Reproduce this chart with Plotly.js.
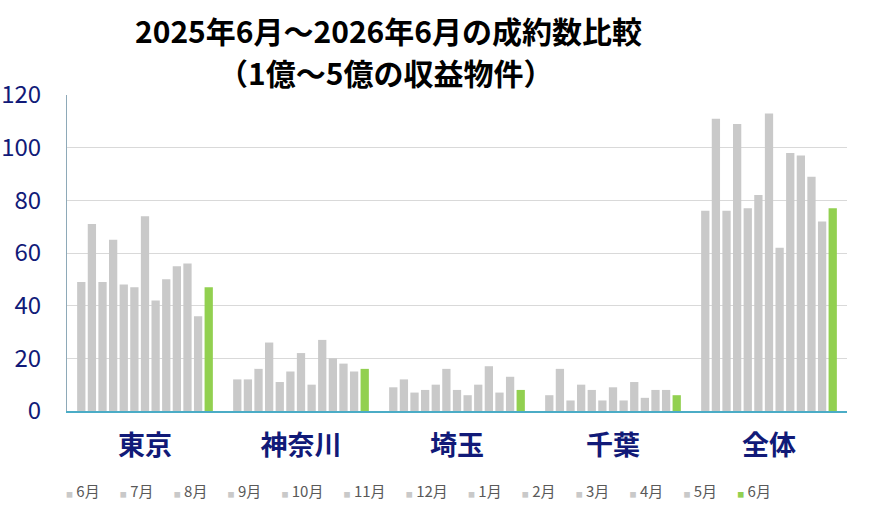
<!DOCTYPE html>
<html>
<head>
<meta charset="utf-8">
<script src="https://cdn.plot.ly/plotly-3.0.1.min.js"></script>
<style>
  html, body { margin: 0; padding: 0; background: #ffffff; }
  #containerID { width: 877px; height: 525px; }
</style>
</head>
<body>
<div id="containerID"></div>
<script>
// regions on the x axis
var regions = ['東京', '神奈川', '埼玉', '千葉', '全体'];

// one bar per month in every region (2025年6月 ... 2026年6月)
var months = ['6月', '7月', '8月', '9月', '10月', '11月', '12月', '1月', '2月', '3月', '4月', '5月', '6月'];

// counts per region, in month order
var tokyo    = [49, 71, 49, 65, 48, 47, 74, 42, 50, 55, 56, 36, 47];
var kanagawa = [12, 12, 16, 26, 11, 15, 22, 10, 27, 20, 18, 15, 16];
var saitama  = [9, 12, 7, 8, 10, 16, 8, 6, 10, 17, 7, 13, 8];
var chiba    = [6, 16, 4, 10, 8, 4, 9, 4, 11, 5, 8, 8, 6];
var total    = [76, 111, 76, 109, 77, 82, 113, 62, 98, 97, 89, 72, 77];

var regionValues = [tokyo, kanagawa, saitama, chiba, total];

var greyColor = '#C9C9C9';
var currentColor = '#92D050';
var navy = '#111A78';
var jpFont = '"Noto Sans CJK JP", "Noto Sans", sans-serif';

// one trace per month, holding that month's value for every region
var plotlyData = [];
var legendParts = [];
for(var i = 0; i < months.length; i++)
{
    var values = [];
    for(var j = 0; j < regions.length; j++)
    {
        values.push(regionValues[j][i]);
    }

    var color = i === months.length - 1 ? currentColor : greyColor;

    plotlyData.push({
        x: regions,
        y: values,
        type: 'bar',
        name: months[i],
        marker: {color: color},
        hoverinfo: 'x+y+name'
    });

    // small square + month label, like the Excel legend
    legendParts.push('<span style="font-size:7px;fill:' + color + '">■</span>\u00a0' + months[i]);
}

// the built-in legend symbols are too big and too far from the text,
// so the legend row is one annotation made from the same traces
var legendText = legendParts.join('\u00a0\u00a0\u00a0\u00a0\u00a0\u00a0');

var plotlyLayout = {
    width: 877,
    height: 525,
    margin: {l: 67, r: 30, t: 95, b: 114},
    paper_bgcolor: '#ffffff',
    plot_bgcolor: '#ffffff',
    font: {family: jpFont, color: '#595959'},
    title: {
        text: '<b>2025年6月～2026年6月の成約数比較</b>',
        font: {family: jpFont, size: 30, color: '#000000'},
        x: 0.443,
        xanchor: 'center',
        y: 0.939,
        yanchor: 'middle'
    },
    barmode: 'group',
    bargap: 0.115,
    bargroupgap: 0.22,
    xaxis: {
        type: 'category',
        showgrid: false,
        showline: true,
        linecolor: '#4BACC6',
        linewidth: 1.5,
        ticks: '',
        ticklabelstandoff: 10,
        tickfont: {family: jpFont, size: 27, color: navy, weight: 'bold'}
    },
    yaxis: {
        range: [0, 120],
        dtick: 20,
        showgrid: true,
        gridcolor: '#D9D9D9',
        showline: true,
        linecolor: '#8EA9B8',
        linewidth: 1,
        zeroline: false,
        ticks: '',
        ticklabelstandoff: 20,
        tickfont: {family: jpFont, size: 24, color: navy}
    },
    showlegend: false,
    annotations: [
        {
            // second title line
            text: '<b>（1億～5億の収益物件）</b>',
            xref: 'paper',
            yref: 'paper',
            x: 0.408,
            xanchor: 'center',
            y: 1.073,
            yanchor: 'middle',
            showarrow: false,
            font: {family: jpFont, size: 30, color: '#000000'}
        },
        {
            text: legendText,
            xref: 'paper',
            yref: 'paper',
            x: -0.004,
            xanchor: 'left',
            y: -0.25,
            yanchor: 'middle',
            showarrow: false,
            font: {family: jpFont, size: 15, color: '#595959'}
        }
    ]
};

var plotlyConfig = {
    displayModeBar: false,
    responsive: false
};

Plotly.newPlot('containerID', plotlyData, plotlyLayout, plotlyConfig);
</script>
</body>
</html>
